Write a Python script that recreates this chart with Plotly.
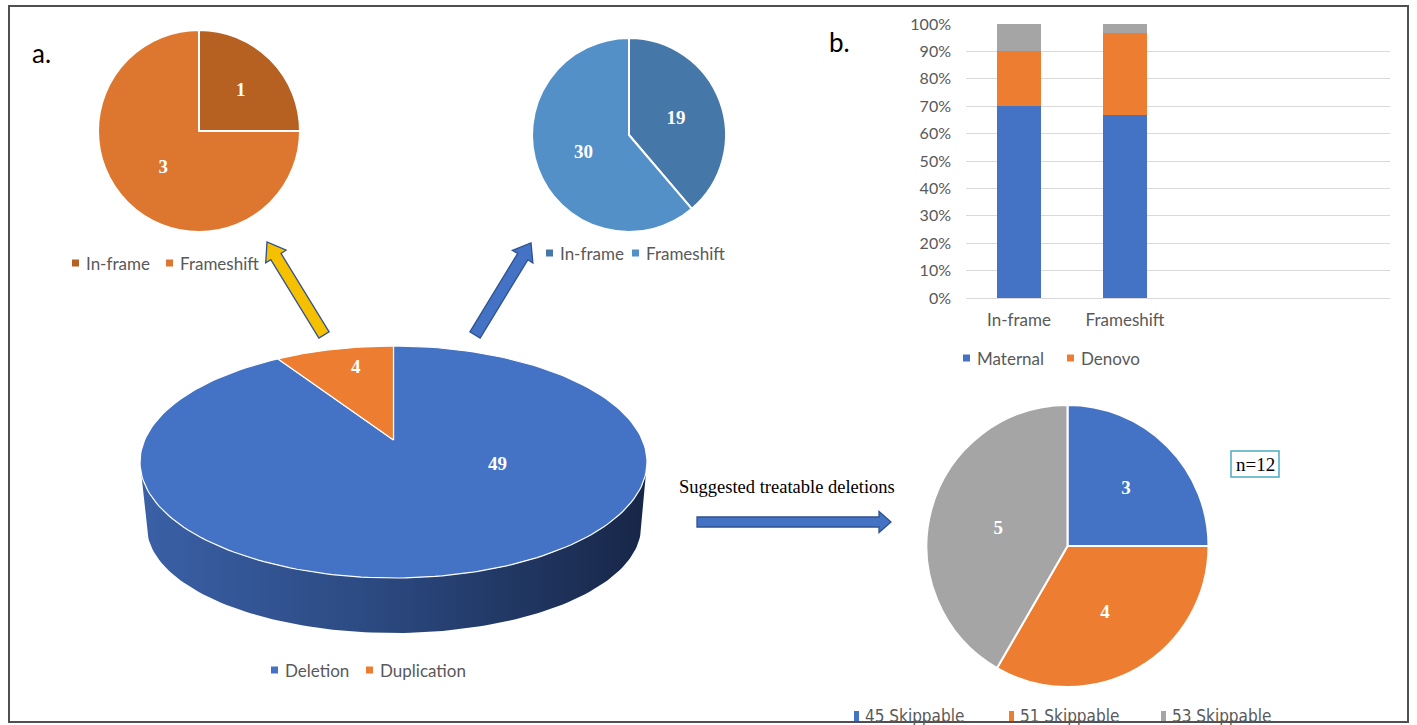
import math
import numpy as np
import plotly.graph_objects as go

# ---------------- data ----------------
# a. top-left: duplications by reading frame
dup_labels = ["In-frame", "Frameshift"]
dup_values = [1, 3]
dup_colors = ["#B66022", "#DD762F"]

# a. top-middle: deletions by reading frame
del_labels = ["In-frame", "Frameshift"]
del_values = [19, 30]
del_colors = ["#4577A8", "#5490C8"]

# a. main 3D pie: variant type
main_labels = ["Deletion", "Duplication"]
main_values = [49, 4]
main_colors = ["#4472C4", "#ED7D31"]

# treatable deletions by exon-skipping target
skip_labels = ["45 Skippable", "51 Skippable", "53 Skippable"]
skip_values = [3, 4, 5]
skip_colors = ["#4472C4", "#ED7D31", "#A5A5A5"]

# b. inheritance by reading frame (percent)
bar_categories = ["In-frame", "Frameshift"]
maternal_pct = [70.0, 66.7]
denovo_pct = [20.0, 30.0]
other_pct = [10.0, 3.3]
bar_series = ["Maternal", "Denovo", "Other"]
bar_colors = ["#4472C4", "#ED7D31", "#A5A5A5"]
bar_ticks = [0, 10, 20, 30, 40, 50, 60, 70, 80, 90, 100]
bar_ticktext = [f"{t}%" for t in bar_ticks]

W, H = 1417, 725
GREY_TXT = "#595959"
SANS = "Lato, Carlito, Calibri, sans-serif"
SERIF = "Liberation Serif, Times New Roman, serif"
NARROW = "Liberation Sans Narrow, DejaVu Sans Condensed, Roboto Condensed, sans-serif"


def px_dom_x(x0, x1):
    return [x0 / W, x1 / W]


def px_dom_y(y_top, y_bottom):
    return [1 - y_bottom / H, 1 - y_top / H]


fig = go.Figure()

label_font = dict(family=SERIF, size=19, color="white", weight="bold")


def add_pie(labels, values, colors, cx, cy, r):
    fig.add_trace(go.Pie(
        labels=labels, values=values, sort=False, direction="clockwise",
        rotation=0, hole=0,
        marker=dict(colors=colors, line=dict(color="white", width=2)),
        textinfo="value", textposition="inside",
        insidetextorientation="horizontal", textfont=label_font,
        hoverinfo="label+value", showlegend=False,
        domain=dict(x=px_dom_x(cx - r, cx + r), y=px_dom_y(cy - r, cy + r)),
    ))


add_pie(dup_labels, dup_values, dup_colors, 199, 131, 101)
add_pie(del_labels, del_values, del_colors, 629, 135, 97)
add_pie(skip_labels, skip_values, skip_colors, 1067.5, 546, 141)

# ---------------- b. stacked percentage bars ----------------
for name, vals, col in zip(bar_series, [maternal_pct, denovo_pct, other_pct], bar_colors):
    fig.add_trace(go.Bar(
        x=bar_categories, y=vals, name=name, marker=dict(color=col, line=dict(width=0)),
        xaxis="x", yaxis="y", showlegend=False,
        hovertemplate="%{x}: %{y}%<extra>" + name + "</extra>",
    ))

# ---------------- a. 3D pie drawn on a pixel-unit overlay axis ----------------
cx, cy, rx, ry = 393.5, 462.0, 253.5, 116.0        # top face ellipse
apex_x, apex_y = 393.5, 440.0                      # projected pie centre
bcx, bcy, brx, bry = 394.0, 527.0, 247.0, 106.0    # bottom rim ellipse

# side wall (front half)
th = np.radians(np.linspace(90, 270, 120))
side_x = list(cx + rx * np.sin(th)) + list(bcx + brx * np.sin(th[::-1]))
side_y = list(cy - ry * np.cos(th)) + list(bcy - bry * np.cos(th[::-1]))
fig.add_trace(go.Scatter(
    x=side_x, y=side_y, mode="lines", fill="toself", line=dict(width=0),
    fillgradient=dict(type="horizontal",
                      colorscale=[[0, "#3A60A6"], [0.45, "#2C4A82"], [1, "#172647"]]),
    xaxis="x2", yaxis="y2", hoverinfo="skip", showlegend=False,
))

total = sum(main_values)
start = 0
for lab, val, col in zip(main_labels, main_values, main_colors):
    a0 = start / total * 360
    a1 = (start + val) / total * 360
    start += val
    t = np.radians(np.linspace(a0, a1, 200))
    xs = [apex_x] + list(cx + rx * np.sin(t)) + [apex_x]
    ys = [apex_y] + list(cy - ry * np.cos(t)) + [apex_y]
    fig.add_trace(go.Scatter(
        x=xs, y=ys, mode="lines", fill="toself", fillcolor=col,
        line=dict(color="white", width=1.2), name=lab,
        xaxis="x2", yaxis="y2", hoveron="fills", hoverinfo="name",
        showlegend=False,
    ))

main_label_xy = [(497, 463), (356, 366)]
for val, (lx, ly) in zip(main_values, main_label_xy):
    fig.add_annotation(x=lx, y=ly, xref="x2", yref="y2", text=str(val),
                       showarrow=False, font=label_font)

# ---------------- legends ----------------
legend_font = dict(family=SANS, size=17, color=GREY_TXT)


def add_legend(labels, colors, xs, y, font=legend_font, sw=7, sh=7, gap=5):
    for lab, col, x in zip(labels, colors, xs):
        fig.add_shape(type="rect", xref="x2", yref="y2",
                      x0=x, x1=x + sw, y0=y - sh / 2, y1=y + sh / 2,
                      fillcolor=col, line=dict(width=0))
        fig.add_annotation(x=x + sw + gap, y=y, xref="x2", yref="y2", text=lab,
                           showarrow=False, xanchor="left", yanchor="middle",
                           font=font)


add_legend(dup_labels, dup_colors, [72, 166], 263)
add_legend(del_labels, del_colors, [546, 632], 253)
add_legend(main_labels, main_colors, [271, 366], 670)
add_legend(bar_series[:2], bar_colors[:2], [963, 1067], 358)
add_legend(skip_labels, skip_colors, [854, 1009, 1161], 716,
           font=dict(family=NARROW, size=17, color=GREY_TXT), sw=5, sh=10, gap=4)

# ---------------- block arrows ----------------
def block_arrow(tail, tip, shaft_hw, head_hw, head_len):
    tx, ty = tail
    px, py = tip
    dx, dy = px - tx, py - ty
    L = math.hypot(dx, dy)
    ux, uy = dx / L, dy / L
    nx, ny = -uy, ux
    bx, by = px - ux * head_len, py - uy * head_len
    pts = [(tx + nx * shaft_hw, ty + ny * shaft_hw),
           (bx + nx * shaft_hw, by + ny * shaft_hw),
           (bx + nx * head_hw, by + ny * head_hw),
           (px, py),
           (bx - nx * head_hw, by - ny * head_hw),
           (bx - nx * shaft_hw, by - ny * shaft_hw),
           (tx - nx * shaft_hw, ty - ny * shaft_hw)]
    return "M" + "L".join(f"{x:.1f},{y:.1f}" for x, y in pts) + "Z"


arrows = [
    (block_arrow((324, 335), (267, 242), 6, 12, 17), "#F5C000"),
    (block_arrow((475, 335), (531, 243), 6, 12, 16), "#4472C4"),
    (block_arrow((697, 522), (891, 522), 5, 10.5, 12), "#4472C4"),
]
for path, col in arrows:
    fig.add_shape(type="path", path=path, xref="x2", yref="y2",
                  fillcolor=col, line=dict(color="#2F528F", width=1.3))

# ---------------- texts ----------------
fig.add_annotation(x=30, y=53, xref="x2", yref="y2", text="a.", showarrow=False,
                   xanchor="left", yanchor="middle",
                   font=dict(family=SANS, size=26, color="black"))
fig.add_annotation(x=827, y=42, xref="x2", yref="y2", text="b.", showarrow=False,
                   xanchor="left", yanchor="middle",
                   font=dict(family=SANS, size=26, color="black"))
fig.add_annotation(x=677, y=487, xref="x2", yref="y2",
                   text="Suggested treatable deletions", showarrow=False,
                   xanchor="left", yanchor="middle",
                   font=dict(family=SERIF, size=18.5, color="black"))
fig.add_annotation(x=1255, y=464, xref="x2", yref="y2",
                   text="n=" + str(sum(skip_values)), showarrow=False,
                   font=dict(family=SERIF, size=19, color="black"))
fig.add_shape(type="rect", xref="x2", yref="y2", x0=1231, x1=1279, y0=451, y1=477,
              line=dict(color="#4BACC6", width=1.5), fillcolor="rgba(0,0,0,0)")

# outer frame
fig.add_shape(type="rect", xref="x2", yref="y2", x0=9, x1=1408, y0=6, y1=722,
              line=dict(color="#505050", width=2), fillcolor="rgba(0,0,0,0)",
              layer="above")

fig.update_layout(
    width=W, height=H,
    margin=dict(l=0, r=0, t=0, b=0, pad=0, autoexpand=False),
    paper_bgcolor="white", plot_bgcolor="rgba(0,0,0,0)",
    showlegend=False, barmode="stack", bargap=0.59,
    font=dict(family=SANS, color=GREY_TXT),
    xaxis=dict(domain=px_dom_x(966, 1390), anchor="y", type="category",
               range=[-0.5, 3.5], showgrid=False, showline=False, ticks="",
               tickfont=dict(family=SANS, size=17, color=GREY_TXT),
               ticklabelstandoff=10, fixedrange=True, automargin=False),
    yaxis=dict(domain=px_dom_y(24, 298), anchor="x", range=[0, 100],
               tickmode="array", tickvals=bar_ticks, ticktext=bar_ticktext,
               showgrid=True, gridcolor="#D9D9D9", gridwidth=1.3, zeroline=True,
               zerolinecolor="#D9D9D9", zerolinewidth=1.3, showline=False,
               ticks="", tickfont=dict(family=SANS, size=16, color=GREY_TXT),
               ticklabelstandoff=14, fixedrange=True, automargin=False),
    xaxis2=dict(domain=[0, 1], range=[0, W], anchor="y2", visible=False,
                fixedrange=True, automargin=False),
    yaxis2=dict(domain=[0, 1], range=[H, 0], anchor="x2", visible=False,
                fixedrange=True, automargin=False),
)

fig.write_html("out.html")
